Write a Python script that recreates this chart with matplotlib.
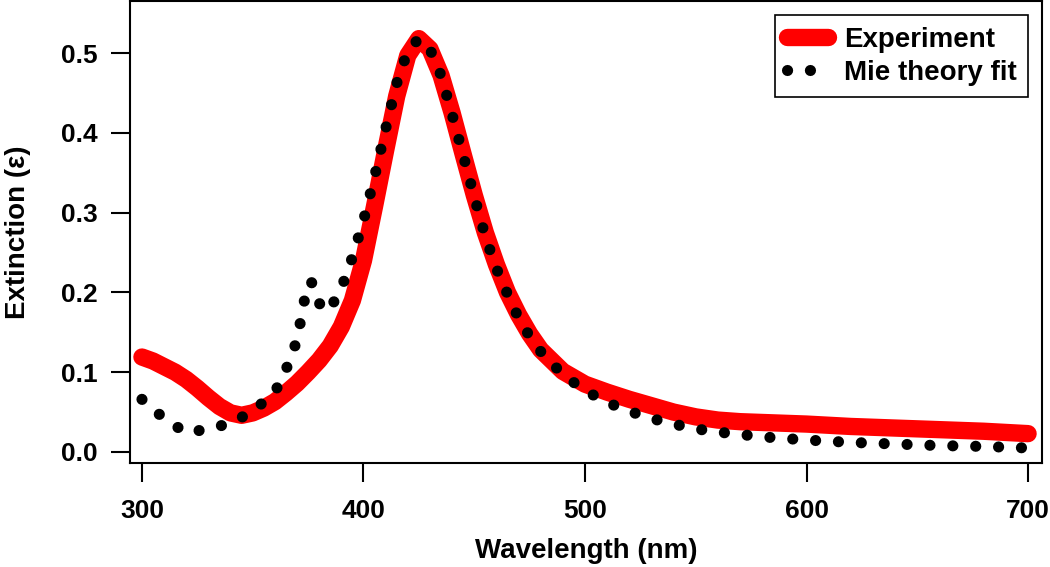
import matplotlib
matplotlib.use("Agg")
import matplotlib.pyplot as plt

plt.rcParams['font.family'] = ['Liberation Sans', 'DejaVu Sans']
plt.rcParams['font.weight'] = 'bold'

# measured extinction (red)
exp_wl = [300, 305, 310, 315, 320, 325, 330, 335, 340, 345, 350, 355, 360, 365,
          370, 375, 380, 385, 390, 395, 400, 405, 410, 415, 420, 425, 430, 435,
          440, 445, 450, 455, 460, 465, 470, 475, 480, 490, 500, 510, 520, 530,
          540, 550, 560, 570, 580, 600, 620, 640, 660, 680, 700]
exp_ext = [0.119, 0.114, 0.107, 0.100, 0.091, 0.080, 0.068, 0.057, 0.049, 0.046,
           0.049, 0.055, 0.063, 0.074, 0.086, 0.100, 0.115, 0.133, 0.157, 0.190,
           0.240, 0.308, 0.378, 0.446, 0.497, 0.518, 0.505, 0.472, 0.425, 0.373,
           0.322, 0.275, 0.235, 0.200, 0.172, 0.148, 0.128, 0.101, 0.085, 0.075,
           0.066, 0.058, 0.050, 0.044, 0.040, 0.038, 0.037, 0.035, 0.032, 0.030,
           0.028, 0.026, 0.023]

# Mie theory fit (dotted)
mie_wl = [300, 310, 320, 330, 340, 350, 360, 365, 370, 374, 376, 378, 381, 385,
          390, 395, 400, 405, 410, 415, 420, 425, 430, 435, 440, 445, 450, 455,
          460, 465, 470, 475, 480, 490, 500, 510, 520, 530, 540, 550, 560, 570,
          580, 590, 600, 620, 640, 660, 680, 700]
mie_ext = [0.066, 0.042, 0.024, 0.029, 0.036, 0.051, 0.075, 0.103, 0.140, 0.200,
           0.214, 0.208, 0.178, 0.180, 0.205, 0.244, 0.290, 0.345, 0.405, 0.462,
           0.503, 0.518, 0.505, 0.472, 0.423, 0.372, 0.320, 0.270, 0.230, 0.198,
           0.168, 0.145, 0.126, 0.097, 0.077, 0.062, 0.051, 0.042, 0.035, 0.029,
           0.025, 0.022, 0.019, 0.017, 0.015, 0.012, 0.010, 0.008, 0.007, 0.005]

fig = plt.figure(figsize=(10.5, 5.67), dpi=100)
ax = fig.add_axes([0.1238, 0.1834, 0.8686, 0.8146])

ax.plot(exp_wl, exp_ext, color='#ff0000', lw=12.5, solid_capstyle='round',
        solid_joinstyle='round', label='Experiment', zorder=2)
ax.plot(mie_wl, mie_ext, color='black', lw=8, linestyle=(0, (0.01, 2.05)),
        dash_capstyle='round', label='Mie theory fit', zorder=3)

ax.set_xlim(294.6, 706.3)
ax.set_ylim(-0.0138, 0.565)
ax.set_xticks([300, 400, 500, 600, 700])
ax.set_yticks([0.0, 0.1, 0.2, 0.3, 0.4, 0.5])
ax.set_yticklabels(['0.0', '0.1', '0.2', '0.3', '0.4', '0.5'])

for s in ax.spines.values():
    s.set_linewidth(1.5)
ax.tick_params(axis='both', direction='out', length=14, width=1.5, labelsize=19)
ax.tick_params(axis='x', pad=12)
ax.tick_params(axis='y', pad=9)

ax.set_xlabel('Wavelength (nm)', fontsize=20, fontweight='bold', labelpad=11)
ax.set_ylabel('Extinction (ε)', fontsize=20, fontweight='bold', labelpad=22)

leg = ax.legend(loc='upper right', fontsize=20, handlelength=1.5,
                handletextpad=0.55, borderpad=0.42, labelspacing=0.25,
                borderaxespad=0.5, fancybox=False, framealpha=1)
leg.get_frame().set_edgecolor('black')
leg.get_frame().set_linewidth(1.2)

fig.savefig('out.png', dpi=100)
